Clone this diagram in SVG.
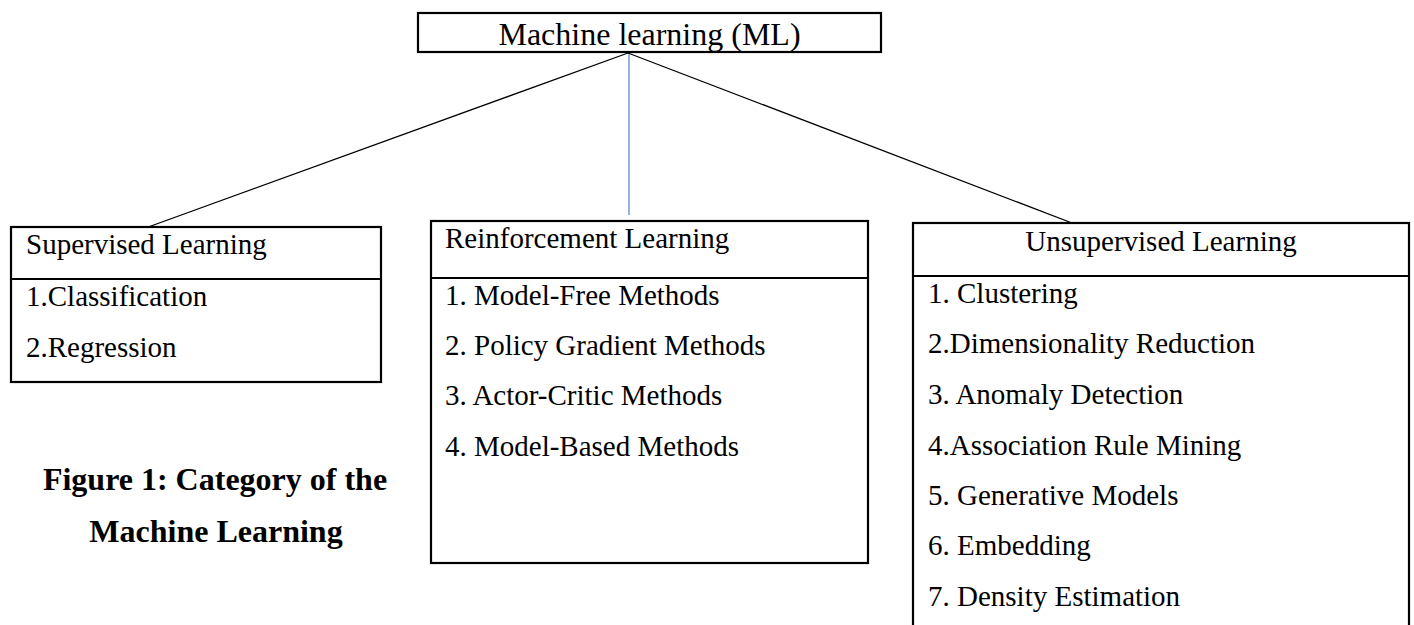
<svg xmlns="http://www.w3.org/2000/svg" width="1414" height="625" viewBox="0 0 1414 625">
<style>
.box{fill:#fff;stroke:#000;stroke-width:2.2}
.div{stroke:#000;stroke-width:2.2}
.t{font-family:"Liberation Serif","Times New Roman",serif;font-size:29px;fill:#000}
.title{font-size:32px}
.cap{font-weight:bold;text-anchor:middle;font-size:32px}
.conn{stroke:#000;stroke-width:1.3;fill:none}
.blue{stroke:#5b8bcb}
</style>
<rect width="1414" height="625" fill="#fff"/>
<g id="connectors">
<line class="conn" x1="628" y1="53" x2="140" y2="230"/>
<line class="conn blue" x1="629" y1="53" x2="629" y2="215"/>
<line class="conn" x1="628" y1="53" x2="1072" y2="223"/>
</g>
<g id="ml">
<rect class="box" x="418" y="13" width="463" height="39"/>
<text class="t title" x="649.5" y="44.5" text-anchor="middle">Machine learning (ML)</text>
</g>
<g id="supervised">
<rect class="box" x="11" y="227" width="370" height="155"/>
<line class="div" x1="11" y1="279" x2="381" y2="279"/>
<text class="t" x="26" y="254">Supervised Learning</text>
<text class="t" x="26" y="306">1.Classification</text>
<text class="t" x="26" y="357">2.Regression</text>
</g>
<g id="reinforcement">
<rect class="box" x="431" y="221" width="437" height="342"/>
<line class="div" x1="431" y1="278" x2="868" y2="278"/>
<text class="t" x="445" y="248">Reinforcement Learning</text>
<text class="t" x="445" y="305">1. Model-Free Methods</text>
<text class="t" x="445" y="355">2. Policy Gradient Methods</text>
<text class="t" x="445" y="405">3. Actor-Critic Methods</text>
<text class="t" x="445" y="456">4. Model-Based Methods</text>
</g>
<g id="unsupervised">
<rect class="box" x="913" y="223" width="496" height="410"/>
<line class="div" x1="913" y1="276" x2="1409" y2="276"/>
<text class="t" x="1161" y="251" text-anchor="middle">Unsupervised Learning</text>
<text class="t" x="928" y="303">1. Clustering</text>
<text class="t" x="928" y="353">2.Dimensionality Reduction</text>
<text class="t" x="928" y="404">3. Anomaly Detection</text>
<text class="t" x="928" y="455">4.Association Rule Mining</text>
<text class="t" x="928" y="505">5. Generative Models</text>
<text class="t" x="928" y="555">6. Embedding</text>
<text class="t" x="928" y="606">7. Density Estimation</text>
</g>
<g id="caption">
<text class="t cap" x="215" y="490">Figure 1: Category of the</text>
<text class="t cap" x="216" y="542">Machine Learning</text>
</g>
</svg>
